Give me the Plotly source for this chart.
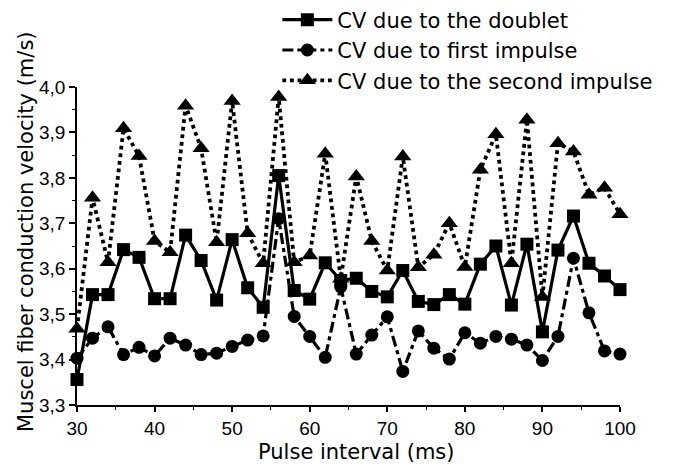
import plotly.graph_objects as go

x_ms = [30, 32, 34, 36, 38, 40, 42, 44, 46, 48, 50, 52, 54, 56, 58, 60, 62, 64,
        66, 68, 70, 72, 74, 76, 78, 80, 82, 84, 86, 88, 90, 92, 94, 96, 98, 100]

cv_doublet = [3.356, 3.543, 3.543, 3.642, 3.625, 3.534, 3.534, 3.674, 3.618, 3.531,
              3.664, 3.558, 3.515, 3.805, 3.552, 3.533, 3.613, 3.574, 3.579, 3.550,
              3.538, 3.596, 3.528, 3.521, 3.543, 3.522, 3.610, 3.650, 3.520, 3.654,
              3.461, 3.641, 3.716, 3.612, 3.584, 3.554]

cv_first = [3.403, 3.447, 3.472, 3.411, 3.427, 3.408, 3.447, 3.432, 3.411, 3.414,
            3.429, 3.443, 3.452, 3.710, 3.495, 3.451, 3.405, 3.560, 3.412, 3.454,
            3.494, 3.374, 3.463, 3.425, 3.401, 3.459, 3.436, 3.451, 3.445, 3.432,
            3.398, 3.451, 3.623, 3.503, 3.419, 3.412]

cv_second = [3.468, 3.756, 3.614, 3.909, 3.848, 3.661, 3.636, 3.959, 3.865, 3.658,
             3.969, 3.678, 3.612, 3.978, 3.614, 3.629, 3.853, 3.578, 3.803, 3.661,
             3.596, 3.847, 3.603, 3.631, 3.700, 3.604, 3.818, 3.896, 3.612, 3.928,
             3.538, 3.876, 3.858, 3.763, 3.778, 3.720]

names = ["CV due to the doublet", "CV due to first impulse", "CV due to the second impulse"]
x_title = "Pulse interval (ms)"
y_title = "Muscel fiber conduction velocity (m/s)"

x_ticks = [30, 40, 50, 60, 70, 80, 90, 100]
y_ticks = [3.3, 3.4, 3.5, 3.6, 3.7, 3.8, 3.9, 4.0]

fig = go.Figure()
fig.add_trace(go.Scatter(
    x=x_ms, y=cv_doublet, name=names[0], mode="lines+markers",
    line=dict(color="black", width=3.2, dash="solid"),
    marker=dict(symbol="square", size=13, color="black"),
    cliponaxis=False))
fig.add_trace(go.Scatter(
    x=x_ms, y=cv_first, name=names[1], mode="lines+markers",
    line=dict(color="black", width=3.2, dash="11px,4px,4px,4px"),
    marker=dict(symbol="circle", size=13, color="black"),
    cliponaxis=False))
fig.add_trace(go.Scatter(
    x=x_ms, y=cv_second, name=names[2], mode="lines+markers",
    line=dict(color="black", width=3.8, dash="dot"),
    marker=dict(symbol="triangle-up", size=15, color="black"),
    cliponaxis=False))

tick_font = dict(family="Liberation Sans, Arial, sans-serif", size=19, color="black")
title_font = dict(family="DejaVu Sans, sans-serif", size=21, color="black")

fig.update_layout(
    width=680, height=465,
    margin=dict(l=77, r=60, t=87, b=60, autoexpand=False),
    paper_bgcolor="white", plot_bgcolor="white",
    separators=", ",
    showlegend=True,
    legend=dict(
        x=0.369, y=1.275, xanchor="left", yanchor="top",
        font=title_font, bgcolor="rgba(0,0,0,0)",
        itemwidth=50, tracegroupgap=0,
    ),
    xaxis=dict(
        range=[30, 100], tickvals=x_ticks, ticks="outside", ticklen=5, tickwidth=1.5,
        tickcolor="black", showline=True, linecolor="black", linewidth=1.5,
        showgrid=False, zeroline=False, tickfont=tick_font, automargin=False,
        minor=dict(dtick=5, tick0=30, ticks="outside", ticklen=3, tickcolor="black", tickwidth=1),
    ),
    yaxis=dict(
        range=[3.3, 4.0], tickvals=y_ticks, tickformat=".1f", ticks="outside", ticklen=6,
        tickwidth=1.5, tickcolor="black", showline=True, linecolor="black", linewidth=1.5,
        showgrid=False, zeroline=False, tickfont=tick_font, automargin=False,
        minor=dict(dtick=0.05, tick0=3.3, ticks="outside", ticklen=3, tickcolor="black", tickwidth=1),
    ),
    annotations=[
        dict(text=x_title, xref="paper", yref="paper", x=0.514, y=-0.148,
             xanchor="center", yanchor="middle", showarrow=False, font=title_font),
        dict(text=y_title, xref="paper", yref="paper", x=-0.094, y=0.547,
             xanchor="center", yanchor="middle", textangle=-90, showarrow=False,
             font=title_font),
    ],
)

fig.write_html("out.html", config={"displayModeBar": False},
               post_script="document.body.style.margin='0';")
